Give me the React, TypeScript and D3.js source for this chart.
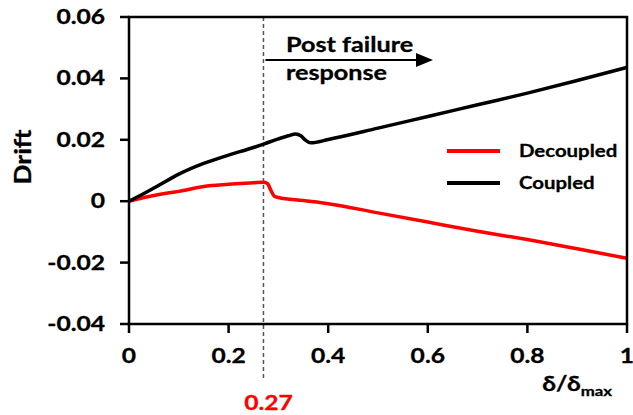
import React from "react";
import * as d3 from "d3";

// Normalised displacement δ/δmax and drift for each model
const xCoupled = [0, 0.03, 0.06, 0.1, 0.15, 0.2, 0.25, 0.27, 0.3, 0.32, 0.335, 0.345, 0.355, 0.365, 0.4, 0.5, 0.6, 0.7, 0.8, 0.9, 1.0];
const driftCoupled = [0, 0.0025, 0.0052, 0.0088, 0.0123, 0.0150, 0.0175, 0.0186, 0.0203, 0.0213, 0.0219, 0.0213, 0.0198, 0.0190, 0.0201, 0.0238, 0.0276, 0.0314, 0.0352, 0.0393, 0.0436];

const xDecoupled = [0, 0.03, 0.06, 0.1, 0.15, 0.2, 0.25, 0.27, 0.278, 0.285, 0.292, 0.3, 0.35, 0.4, 0.5, 0.6, 0.7, 0.8, 0.9, 1.0];
const driftDecoupled = [0, 0.0012, 0.0022, 0.0032, 0.0048, 0.0055, 0.0060, 0.0062, 0.0058, 0.0035, 0.0016, 0.0012, 0.0002, -0.0008, -0.0038, -0.0068, -0.0098, -0.0125, -0.0155, -0.0186];

const xTicks = [0, 0.2, 0.4, 0.6, 0.8, 1];
const xTickLabels = ["0", "0.2", "0.4", "0.6", "0.8", "1"];
const yTicks = [-0.04, -0.02, 0, 0.02, 0.04, 0.06];
const yTickLabels = ["-0.04", "-0.02", "0", "0.02", "0.04", "0.06"];

const failurePoint = 0.27;
const failureLabel = "0.27";

const seriesNames = ["Decoupled", "Coupled"];
const seriesColors = ["#ff0000", "#000000"];

const W = 633;
const H = 415;
const FONT = "Lato, 'Open Sans', sans-serif";
const SX = 1.2;

type TProps = {
  x: number;
  y: number;
  size: number;
  anchor?: "start" | "middle" | "end";
  fill?: string;
  rotate?: number;
  children: React.ReactNode;
};

// Bold label with a slight horizontal widening
function T({ x, y, size, anchor = "start", fill = "#000", rotate = 0, children }: TProps) {
  const tf = rotate
    ? `translate(${x},${y}) rotate(${rotate}) scale(${SX},1)`
    : `translate(${x},${y}) scale(${SX},1)`;
  return (
    <text
      transform={tf}
      fontFamily={FONT}
      fontWeight={700}
      fontSize={size}
      textAnchor={anchor}
      fill={fill}
      stroke={fill}
      strokeWidth={0.3}
    >
      {children}
    </text>
  );
}

export default function App() {
  const x = d3.scaleLinear().domain([0, 1]).range([129, 627]);
  const y = d3.scaleLinear().domain([-0.04, 0.06]).range([324, 17]);

  const line = d3
    .line<[number, number]>()
    .x((d) => x(d[0]))
    .y((d) => y(d[1]))
    .curve(d3.curveMonotoneX);

  const coupled = line(xCoupled.map((v, i) => [v, driftCoupled[i]] as [number, number])) || "";
  const decoupled = line(xDecoupled.map((v, i) => [v, driftDecoupled[i]] as [number, number])) || "";

  const [x0, x1] = x.range();
  const [yb, yt] = y.range();
  const xf = x(failurePoint);

  return (
    <svg
      width={W}
      height={H}
      style={{ position: "absolute", left: 0, top: 0, background: "#fff" }}
    >
      {/* failure marker */}
      <line x1={xf} x2={xf} y1={yt} y2={380} stroke="#555" strokeWidth={1.5} strokeDasharray="4,3" />

      {/* series */}
      <path d={decoupled} fill="none" stroke={seriesColors[0]} strokeWidth={3.5} strokeLinejoin="round" />
      <path d={coupled} fill="none" stroke={seriesColors[1]} strokeWidth={3.5} strokeLinejoin="round" />

      {/* frame */}
      <rect x={x0} y={yt} width={x1 - x0} height={yb - yt} fill="none" stroke="#000" strokeWidth={2.5} />

      {/* y axis ticks */}
      {yTicks.map((t, i) => (
        <g key={"y" + i}>
          <line x1={x0 - 9} x2={x0} y1={y(t)} y2={y(t)} stroke="#000" strokeWidth={2.5} />
          <T x={105} y={y(t) + 7} size={20.5} anchor="end">
            {yTickLabels[i]}
          </T>
        </g>
      ))}

      {/* x axis ticks */}
      {xTicks.map((t, i) => (
        <g key={"x" + i}>
          <line x1={x(t)} x2={x(t)} y1={yb} y2={yb + 9} stroke="#000" strokeWidth={2.5} />
          <T x={x(t)} y={363} size={20.5} anchor="middle">
            {xTickLabels[i]}
          </T>
        </g>
      ))}

      {/* axis titles */}
      <T x={31} y={157} size={22} anchor="middle" rotate={-90}>
        Drift
      </T>
      <T x={612} y={391} size={20.5} anchor="end">
        δ/δ<tspan fontSize={14} dy={5}>max</tspan>
      </T>
      <T x={xf + 5} y={410} size={20.5} anchor="middle" fill="#ff0000">
        {failureLabel}
      </T>

      {/* post failure annotation */}
      <line x1={xf + 2} x2={418} y1={60} y2={60} stroke="#000" strokeWidth={2} />
      <path d={`M416,53 L433,60 L416,67 Z`} fill="#000" />
      <T x={286} y={52} size={21}>
        Post failure
      </T>
      <T x={286} y={80} size={21}>
        response
      </T>

      {/* legend */}
      {seriesNames.map((n, i) => (
        <g key={n}>
          <line x1={447} x2={500} y1={151 + i * 32} y2={151 + i * 32} stroke={seriesColors[i]} strokeWidth={4} />
          <T x={519} y={157 + i * 32} size={17}>
            {n}
          </T>
        </g>
      ))}
    </svg>
  );
}
